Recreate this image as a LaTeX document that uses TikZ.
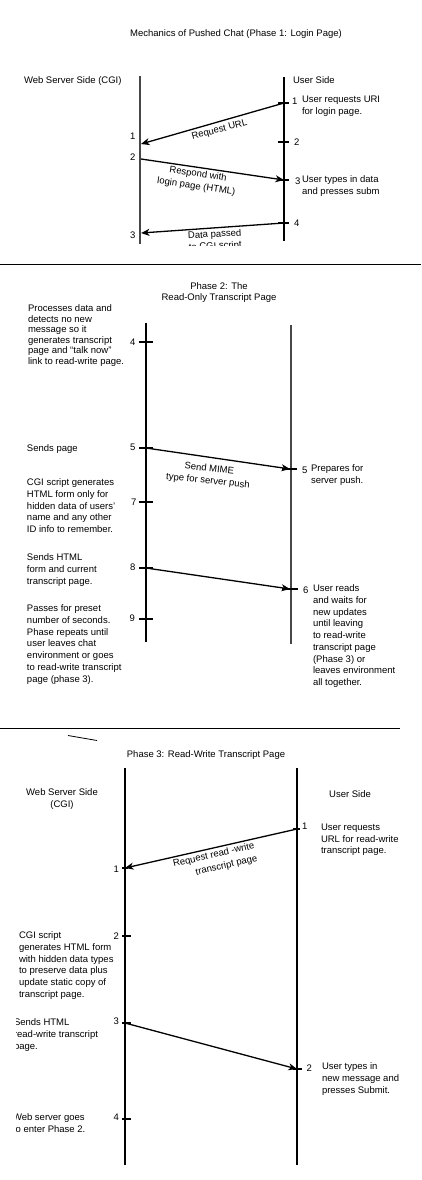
\documentclass[tikz,border=0pt]{standalone}
\usepackage{fontspec}
\setmainfont{Liberation Sans}
\usetikzlibrary{arrows.meta}
\begin{document}
\begin{tikzpicture}[x=1pt,y=-1pt,
  every node/.style={inner sep=0pt, outer sep=0pt, font=\fontsize{9.5}{11.7}\selectfont},
  txt/.style={anchor=north west, align=left, yshift=5pt, execute at begin node=\strut},
  num/.style={anchor=north east, yshift=5pt, execute at begin node=\strut},
  ctr/.style={anchor=north, align=center, yshift=5pt, execute at begin node=\strut},
  lbl/.style={anchor=center, align=center, execute at begin node=\strut},
  life/.style={line width=1.4pt, draw=black},
  lifegray/.style={line width=2pt, draw=black!72},
  tick/.style={line width=1.2pt},
  sep/.style={line width=1pt},
  arr/.style={line width=1.3pt, -{Stealth[length=8.5pt,width=7pt,inset=2.5pt]}}
]
\useasboundingbox (0,0) rectangle (421,1180);
\fill[white] (0,0) rectangle (421,1180);

% ================= Phase 1 =================
\node[ctr] (title1) at (236,33) {Mechanics of Pushed Chat (Phase 1: Login Page)};
\node[txt] (ws1) at (24,80) {Web Server Side (CGI)};
\node[txt] (us1) at (293,80) {User Side};

\coordinate (L1a) at (140,76);  \coordinate (L1b) at (140,244);
\coordinate (R1a) at (284,77);  \coordinate (R1b) at (284,241);
\draw[lifegray] (L1a) -- (L1b);
\draw[life] (R1a) -- (R1b);

\coordinate (u1) at (284,103); \coordinate (u2) at (284,142);
\coordinate (u3) at (284,180); \coordinate (u4) at (284,223);
\coordinate (s1) at (141,144); \coordinate (s2) at (141,159);
\coordinate (s3) at (141,233);
\foreach \p in {u1,u2,u3,u4} \draw[tick] (\p) ++(-6,0) -- ++(11,0);

\draw[arr] (u1) -- (s1);
\draw[arr] (s2) -- (u3);
\draw[arr] (u4) -- (s3);

\node[num] (n1s1) at (135.5,136) {1};
\node[num] (n1s2) at (135.5,157) {2};
\node[num] (n1s3) at (135.5,235) {3};

\node[txt] (n1u1) at (292,101) {1};
\node[txt] (n1u2) at (294,142) {2};
\node[txt] (n1u3) at (295,181) {3};
\node[txt] (n1u4) at (294,223) {4};
\begin{scope}
  \clip (0,0) rectangle (378.6,255);
  \node[txt] (d1u1) at (302,101) {User requests URL\\for login page.};
  \node[txt] (d1u3) at (302,181) {User types in data\\and presses submit.};
\end{scope}

\node[lbl, rotate=15] (lab1) at (219.5,130) {Request URL};
\node[lbl, rotate=-8.5, font=\fontsize{9.5}{12.5}\selectfont] (lab2) at (197,181.5) {Respond with\\login page (HTML)};
\begin{scope}
  \clip (0,0) rectangle (421,245.3);
  \node[lbl, rotate=3] (lab3) at (215,241.5) {Data passed\\to CGI script};
\end{scope}

\draw[sep] (0,264.3) -- (421,264.3);

% ================= Phase 2 =================
\node[ctr, font=\fontsize{9.5}{10.5}\selectfont] (title2) at (219,288) {Phase 2: The\\Read-Only Transcript Page};

\coordinate (L2a) at (146,323); \coordinate (L2b) at (146,642);
\coordinate (R2a) at (291,325); \coordinate (R2b) at (291,644);
\draw[life] (L2a) -- (L2b);
\draw[lifegray] (R2a) -- (R2b);

\coordinate (t4) at (146,342); \coordinate (t5) at (146,448);
\coordinate (t7) at (146,502); \coordinate (t8) at (146,568);
\coordinate (t9) at (146,619);
\coordinate (r5) at (290,469); \coordinate (r6) at (290,589);
\foreach \p in {t4,t5,t7,t8,t9} \draw[tick] (\p) ++(-7,0) -- ++(14,0);
\draw[tick] (r5) ++(-8,0) -- ++(15,0);
\draw[tick] (r6) ++(-8,0) -- ++(16,0);

\draw[arr] (t5) -- (r5);
\draw[arr] (t8) -- (r6);
\node[lbl, rotate=-6, font=\fontsize{9.5}{12.2}\selectfont] (lab5) at (208.5,476) {Send MIME\\type for server push};

\node[num] (n2t4) at (135.5,342) {4};
\node[num] (n2t5) at (135.5,447) {5};
\node[num] (n2t7) at (136.5,502) {7};
\node[num] (n2t8) at (135.5,567) {8};
\node[num] (n2t9) at (135,618) {9};

\node[txt, font=\fontsize{9.5}{10.45}\selectfont] (d2a) at (28,310) {Processes data and\\detects no new\\message so it\\generates transcript\\page and ``talk now''\\link to read-write page.};
\node[txt] (d2b) at (27,448) {Sends page};
\node[txt] (d2c) at (27,484) {CGI script generates\\HTML form only for\\hidden data of users'\\name and any other\\ID info to remember.};
\node[txt] (d2d) at (27,559) {Sends HTML\\form and current\\transcript page.};
\node[txt] (d2e) at (27,610) {Passes for preset\\number of seconds.\\Phase repeats until\\user leaves chat\\environment or goes\\to read-write transcript\\page (phase 3).};

\node[txt] (n2r5) at (302,470) {5};
\node[txt] (d2r5) at (311,470) {Prepares for\\server push.};
\node[txt] (n2r6) at (303,590) {6};
\node[txt] (d2r6) at (313,590) {User reads\\and waits for\\new updates\\until leaving\\to read-write\\transcript page\\(Phase 3) or\\leaves environment\\all together.};

\draw[sep] (0,728.3) -- (400,728.3);
\draw[line width=0.8pt] (68,735.5) -- (97,740.5);

% ================= Phase 3 =================
\node[ctr] (title3) at (206,754) {Phase 3: Read-Write Transcript Page};
\node[ctr] (ws3) at (62,794) {Web Server Side\\(CGI)};
\node[ctr] (us3) at (350,794) {User Side};

\coordinate (L3a) at (125,768); \coordinate (L3b) at (125,1165);
\coordinate (R3a) at (297,768); \coordinate (R3b) at (297,1165);
\draw[life] (L3a) -- (L3b);
\draw[life] (R3a) -- (R3b);

\coordinate (p1) at (297,829); \coordinate (p2) at (297,1069);
\coordinate (q1) at (125,868); \coordinate (q2) at (125,936);
\coordinate (q3) at (125,1023); \coordinate (q4) at (125,1119);
\draw[tick] (p1) ++(-4,0) -- ++(7,0);
\draw[tick] (p2) ++(-4,0) -- ++(9,0);
\draw[tick] (q1) ++(-3,0) -- ++(6,0);
\foreach \p in {q2,q3,q4} \draw[tick] (\p) ++(-3,0) -- ++(9,0);

\draw[arr] (p1) -- (q1);
\draw[arr] (q3) -- (p2);
\node[lbl, rotate=13, align=right, font=\fontsize{9.5}{13}\selectfont] (lab31) at (215.5,862.5) {Request read -write\\transcript page};

\node[num] (n3q1) at (119,869) {1};
\node[num] (n3q2) at (119,936) {2};
\node[num] (n3q3) at (119,1021) {3};
\node[num] (n3q4) at (119,1117) {4};

\node[txt] (n3p1) at (302,826.5) {1};
\node[txt] (d3p1) at (321,829) {User requests\\URL for read-write\\transcript page.};
\node[txt] (n3p2) at (306.5,1068) {2};
\node[txt] (d3p2) at (322,1068) {User types in\\new message and\\presses Submit.};

\node[txt] (d3q2) at (19,937) {CGI script\\generates HTML form\\with hidden data types\\to preserve data plus\\update static copy of\\transcript page.};
\begin{scope}
  \clip (16.7,730) rectangle (421,1180);
  \node[txt] (d3q3) at (14,1024) {Sends HTML\\read-write transcript\\page.};
  \node[txt] (d3q4) at (13,1119) {Web server goes\\to enter Phase 2.};
\end{scope}
\end{tikzpicture}
\end{document}
